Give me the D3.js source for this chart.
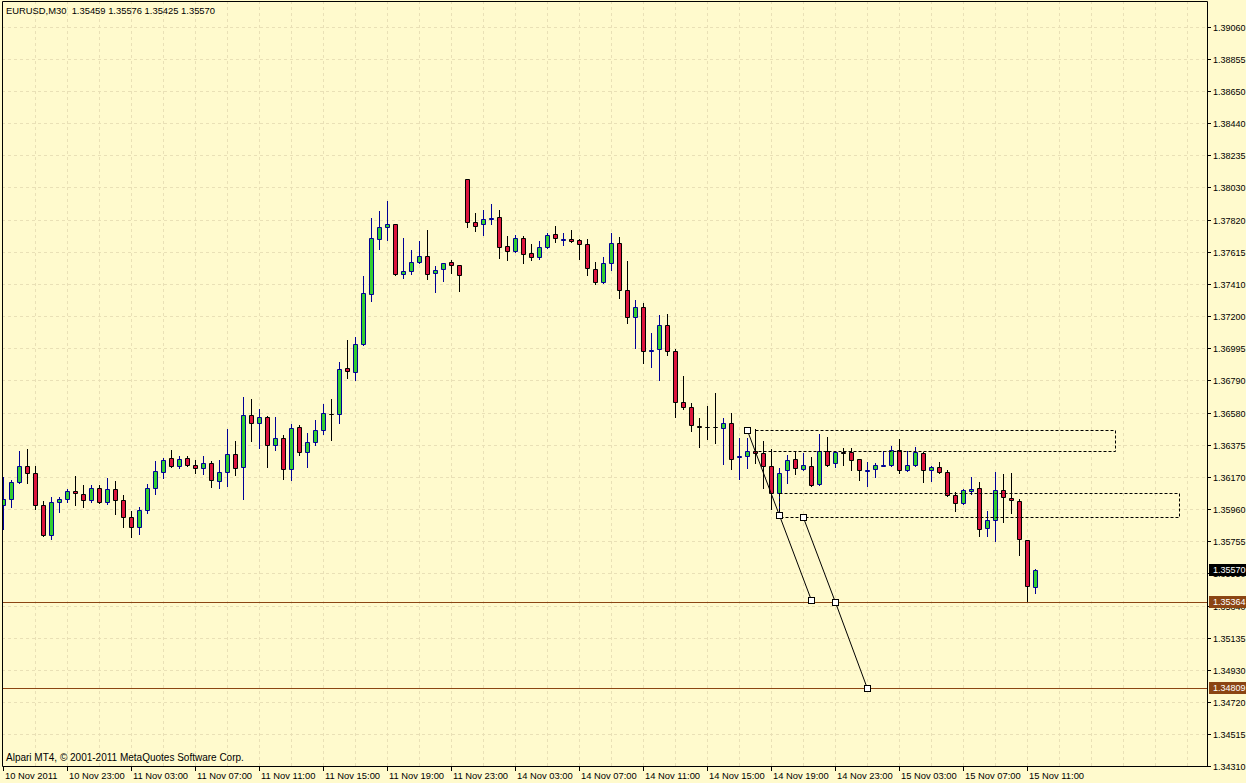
<!DOCTYPE html>
<html>
<head>
<meta charset="utf-8">
<script src="https://cdn.jsdelivr.net/npm/d3@7"></script>
<style>
    body { margin: 0; background: #fffacd; }
    svg { display: block; }
</style>
</head>
<body>
<script>

// EURUSD M30, 10 Nov 2011 19:00 .. 15 Nov 2011 11:30 (one bar per entry)
var opens = [
    1.35987, 1.36024, 1.36133, 1.36236, 1.36191, 1.35986, 1.35793, 1.36005, 1.36024, 1.36076,
    1.36056, 1.36018, 1.36095, 1.36005, 1.36088, 1.36018, 1.35908, 1.35844, 1.35953, 1.36095,
    1.36198, 1.36288, 1.36236, 1.36288, 1.36243, 1.36223, 1.36256, 1.36140, 1.36198, 1.36313,
    1.36230, 1.36564, 1.36513, 1.36551, 1.36371, 1.36416, 1.36217, 1.36487, 1.36326, 1.36390,
    1.36468, 1.36575, 1.36570, 1.36866, 1.36840, 1.37020, 1.37342, 1.37695, 1.37773, 1.37792,
    1.37470, 1.37490, 1.37548, 1.37586, 1.37477, 1.37503, 1.37548, 1.37528, 1.38081, 1.37805,
    1.37792, 1.37832, 1.37837, 1.37650, 1.37618, 1.37702, 1.37605, 1.37580, 1.37644, 1.37727,
    1.37699, 1.37695, 1.37689, 1.37663, 1.37503, 1.37419, 1.37541, 1.37670, 1.37368, 1.37194,
    1.37258, 1.36986, 1.36988, 1.37143, 1.36975, 1.36648, 1.36615, 1.36497, 1.36491, 1.36487,
    1.36480, 1.36513, 1.36304, 1.36300, 1.36333, 1.36320, 1.36236, 1.36063, 1.36210, 1.36281,
    1.36217, 1.36236, 1.36120, 1.36333, 1.36256, 1.36326, 1.36326, 1.36281, 1.36210, 1.36217,
    1.36243, 1.36243, 1.36339, 1.36210, 1.36243, 1.36320, 1.36210, 1.36230, 1.36198, 1.36050,
    1.35998, 1.36076, 1.36095, 1.35838, 1.35889, 1.36082, 1.36031, 1.36011, 1.35760, 1.35459
];
var highs = [
    1.36167, 1.36148, 1.36334, 1.36347, 1.36238, 1.36013, 1.36039, 1.36039, 1.36090, 1.36174,
    1.36116, 1.36114, 1.36114, 1.36159, 1.36140, 1.36050, 1.35949, 1.35973, 1.36120, 1.36268,
    1.36288, 1.36339, 1.36300, 1.36300, 1.36275, 1.36300, 1.36268, 1.36275, 1.36474, 1.36397,
    1.36680, 1.36667, 1.36603, 1.36558, 1.36551, 1.36435, 1.36506, 1.36500, 1.36448, 1.36532,
    1.36635, 1.36667, 1.36905, 1.37046, 1.37065, 1.37458, 1.37830, 1.37875, 1.37942, 1.37795,
    1.37702, 1.37625, 1.37683, 1.37753, 1.37522, 1.37543, 1.37560, 1.37530, 1.38083, 1.37862,
    1.37882, 1.37922, 1.37882, 1.37715, 1.37721, 1.37715, 1.37663, 1.37683, 1.37734, 1.37779,
    1.37734, 1.37753, 1.37695, 1.37695, 1.37548, 1.37580, 1.37734, 1.37708, 1.37554, 1.37303,
    1.37284, 1.37091, 1.37207, 1.37213, 1.36988, 1.36815, 1.36641, 1.36545, 1.36624, 1.36705,
    1.36545, 1.36577, 1.36416, 1.36416, 1.36474, 1.36401, 1.36347, 1.36223, 1.36307, 1.36333,
    1.36320, 1.36294, 1.36442, 1.36423, 1.36333, 1.36352, 1.36352, 1.36284, 1.36262, 1.36256,
    1.36333, 1.36365, 1.36410, 1.36333, 1.36358, 1.36326, 1.36236, 1.36262, 1.36210, 1.36069,
    1.36088, 1.36165, 1.36133, 1.35947, 1.36198, 1.36185, 1.36191, 1.36024, 1.35762, 1.35576
];
var lows = [
    1.35833, 1.35976, 1.36130, 1.36131, 1.35964, 1.35790, 1.35767, 1.35944, 1.36009, 1.35986,
    1.35973, 1.36005, 1.35998, 1.35992, 1.35928, 1.35848, 1.35784, 1.35803, 1.35934, 1.36056,
    1.36163, 1.36233, 1.36223, 1.36236, 1.36191, 1.36185, 1.36101, 1.36095, 1.36108, 1.36178,
    1.36024, 1.36401, 1.36357, 1.36234, 1.36338, 1.36157, 1.36148, 1.36307, 1.36234, 1.36371,
    1.36446, 1.36407, 1.36516, 1.36806, 1.36793, 1.37018, 1.37301, 1.37635, 1.37693, 1.37464,
    1.37445, 1.37474, 1.37541, 1.37438, 1.37355, 1.37429, 1.37477, 1.37365, 1.37773, 1.37751,
    1.37721, 1.37792, 1.37573, 1.37560, 1.37612, 1.37541, 1.37560, 1.37567, 1.37640, 1.37676,
    1.37657, 1.37676, 1.37571, 1.37464, 1.37406, 1.37416, 1.37496, 1.37316, 1.37159, 1.36995,
    1.36902, 1.36876, 1.36793, 1.36954, 1.36555, 1.36603, 1.36461, 1.36358, 1.36410, 1.36384,
    1.36249, 1.36217, 1.36153, 1.36223, 1.36256, 1.36099, 1.35960, 1.35923, 1.36127, 1.36185,
    1.36210, 1.36108, 1.36114, 1.36240, 1.36230, 1.36243, 1.36210, 1.36146, 1.36108, 1.36165,
    1.36236, 1.36236, 1.36191, 1.36204, 1.36240, 1.36133, 1.36140, 1.36191, 1.36043, 1.35947,
    1.35992, 1.36056, 1.35786, 1.35786, 1.35754, 1.35876, 1.35934, 1.35664, 1.35364, 1.35425
];
var closes = [
    1.36026, 1.36133, 1.36236, 1.36191, 1.35986, 1.35793, 1.36007, 1.36024, 1.36076, 1.36063,
    1.36018, 1.36095, 1.36005, 1.36088, 1.36018, 1.35908, 1.35844, 1.35953, 1.36095, 1.36204,
    1.36275, 1.36236, 1.36281, 1.36243, 1.36223, 1.36256, 1.36146, 1.36198, 1.36313, 1.36223,
    1.36564, 1.36513, 1.36551, 1.36371, 1.36416, 1.36217, 1.36480, 1.36326, 1.36390, 1.36468,
    1.36577, 1.36574, 1.36860, 1.36847, 1.37020, 1.37348, 1.37702, 1.37773, 1.37792, 1.37470,
    1.37490, 1.37548, 1.37586, 1.37470, 1.37496, 1.37541, 1.37528, 1.37464, 1.37805, 1.37779,
    1.37824, 1.37832, 1.37644, 1.37618, 1.37702, 1.37599, 1.37580, 1.37644, 1.37721, 1.37702,
    1.37699, 1.37683, 1.37663, 1.37509, 1.37419, 1.37541, 1.37670, 1.37368, 1.37194, 1.37258,
    1.36975, 1.36986, 1.37143, 1.36975, 1.36648, 1.36615, 1.36500, 1.36487, 1.36490, 1.36486,
    1.36513, 1.36281, 1.36304, 1.36333, 1.36320, 1.36236, 1.36063, 1.36191, 1.36275, 1.36223,
    1.36243, 1.36114, 1.36333, 1.36243, 1.36326, 1.36325, 1.36275, 1.36210, 1.36210, 1.36243,
    1.36243, 1.36339, 1.36210, 1.36243, 1.36326, 1.36210, 1.36230, 1.36198, 1.36050, 1.35998,
    1.36082, 1.36088, 1.35831, 1.35889, 1.36082, 1.36037, 1.36018, 1.35767, 1.35465, 1.35570
];

// one label every 8 bars
var timeLabels = [
    '10 Nov 2011', '10 Nov 23:00', '11 Nov 03:00', '11 Nov 07:00', '11 Nov 11:00',
    '11 Nov 15:00', '11 Nov 19:00', '11 Nov 23:00', '14 Nov 03:00', '14 Nov 07:00',
    '14 Nov 11:00', '14 Nov 15:00', '14 Nov 19:00', '14 Nov 23:00', '15 Nov 03:00',
    '15 Nov 07:00', '15 Nov 11:00'
];
var priceTicks = [
    1.39060, 1.38855, 1.38650, 1.38440, 1.38235, 1.38030, 1.37820, 1.37615,
    1.37410, 1.37200, 1.36995, 1.36790, 1.36580, 1.36375, 1.36170, 1.35960,
    1.35755, 1.35550, 1.35340, 1.35135, 1.34930, 1.34720, 1.34515, 1.34310
];

// drawn objects on the chart
var levelPrices = [1.35364, 1.34809];
var zoneFrom = [94, 97];
var zoneTo = [139, 147];
var zoneHigh = [1.36468, 1.36063];
var zoneLow = [1.36333, 1.35908];
var trendA = [[93, 1.36468], [97, 1.35923], [101, 1.35377]];
var trendB = [[100, 1.35908], [104, 1.35364], [108, 1.34809]];

var symbol = 'EURUSD,M30';
var copyright = 'Alpari MT4, \u00a9 2001-2011 MetaQuotes Software Corp.';

var opts = {
    width: 1246,
    height: 783,
    left: 2,
    top: 1,
    right: 1207,
    bottom: 766,
    bg: '#fffacd',
    grid: '#e9e0b6',
    bullFill: '#32cd32',
    bullLine: '#000096',
    bearFill: '#dc143c',
    bearLine: '#000000',
    level: '#8b4513',
    font: 'Tahoma, "Liberation Sans", Arial, sans-serif',
    fontSize: '10px',
    priceSize: '9px',
    timeSize: '9.4px'
};

var svg = d3.select('body').append('svg')
    .attr('width', opts.width)
    .attr('height', opts.height)
    .attr('font-family', opts.font)
    .attr('font-size', opts.fontSize);

svg.append('rect')
    .attr('width', opts.width)
    .attr('height', opts.height)
    .attr('fill', opts.bg);

var x = d3.scaleLinear().domain([0, 129]).range([3, 1035]);
var y = d3.scaleLinear().domain([1.34310, 1.39060]).range([766, 27]);

var px = function(v) { return Math.round(v) + 0.5; };

svg.append('clipPath').attr('id', 'plot')
    .append('rect')
    .attr('x', opts.left + 1).attr('y', opts.top + 1)
    .attr('width', opts.right - opts.left - 1)
    .attr('height', opts.bottom - opts.top - 1);

var plot = svg.append('g').attr('clip-path', 'url(#plot)');

// grid
var vgrid = d3.range(32, 1207, 32);
plot.selectAll('line.vg').data(vgrid).enter().append('line')
    .attr('x1', function(d) { return px(d + 3); })
    .attr('x2', function(d) { return px(d + 3); })
    .attr('y1', opts.top).attr('y2', opts.bottom)
    .attr('stroke', opts.grid)
    .attr('stroke-dasharray', '3,3');

plot.selectAll('line.hg').data(priceTicks).enter().append('line')
    .attr('x1', opts.left).attr('x2', opts.right)
    .attr('y1', function(d) { return px(y(d)); })
    .attr('y2', function(d) { return px(y(d)); })
    .attr('stroke', opts.grid)
    .attr('stroke-dasharray', '3,3');

// candles
var bars = d3.range(opens.length).map(function(i) {
    return { i: i, o: opens[i], h: highs[i], l: lows[i], c: closes[i] };
});

var candle = plot.selectAll('g.bar').data(bars).enter().append('g');

candle.append('line')
    .attr('x1', function(d) { return px(x(d.i)); })
    .attr('x2', function(d) { return px(x(d.i)); })
    .attr('y1', function(d) { return Math.round(y(d.h)); })
    .attr('y2', function(d) { return Math.round(y(d.l)) + 1; })
    .attr('stroke', function(d) { return d.c >= d.o ? opts.bullLine : opts.bearLine; });

candle.append('path')
    .attr('d', function(d) {
        var cx = Math.round(x(d.i));
        var t = Math.round(y(Math.max(d.o, d.c)));
        var b = Math.round(y(Math.min(d.o, d.c)));
        if (d.o === d.c) b = t + 1;
        return 'M' + (cx - 1.5) + ',' + (t + 0.5) + 'H' + (cx + 2.5) +
            'V' + (b + 0.5) + 'H' + (cx - 1.5) + 'Z';
    })
    .attr('fill', function(d) { return d.c >= d.o ? opts.bullFill : opts.bearFill; })
    .attr('stroke', function(d) { return d.c >= d.o ? opts.bullLine : opts.bearLine; });

// horizontal levels
plot.selectAll('line.lvl').data(levelPrices).enter().append('line')
    .attr('x1', opts.left).attr('x2', opts.right)
    .attr('y1', function(d) { return px(y(d)); })
    .attr('y2', function(d) { return px(y(d)); })
    .attr('stroke', opts.level);

// dashed zones
plot.selectAll('rect.zone').data(zoneFrom).enter().append('rect')
    .attr('x', function(d) { return px(x(d)); })
    .attr('y', function(d, i) { return px(y(zoneHigh[i])); })
    .attr('width', function(d, i) { return Math.round(x(zoneTo[i]) - x(d)); })
    .attr('height', function(d, i) { return Math.round(y(zoneLow[i]) - y(zoneHigh[i])); })
    .attr('fill', 'none')
    .attr('stroke', '#000')
    .attr('stroke-dasharray', '3,2');

// trend lines with handles
[trendA, trendB].forEach(function(pts) {
    plot.append('path')
        .attr('d', d3.line()
            .x(function(p) { return x(p[0]) + 0.5; })
            .y(function(p) { return y(p[1]) + 0.5; })(pts))
        .attr('fill', 'none')
        .attr('stroke', '#000');

    plot.selectAll(null).data(pts).enter().append('rect')
        .attr('x', function(p) { return Math.round(x(p[0])) - 2.5; })
        .attr('y', function(p) { return Math.round(y(p[1])) - 2.5; })
        .attr('width', 6).attr('height', 6)
        .attr('fill', '#fff')
        .attr('stroke', '#000');
});

// frame
svg.append('path')
    .attr('d', 'M' + (opts.left + 0.5) + ',' + (opts.top + 0.5) +
        'H' + (opts.right + 0.5) + 'V' + (opts.bottom + 0.5) +
        'H' + (opts.left + 0.5) + 'Z')
    .attr('fill', 'none')
    .attr('stroke', '#000');

// price axis
var pAxis = svg.selectAll('g.pt').data(priceTicks).enter().append('g')
    .attr('transform', function(d) { return 'translate(0,' + px(y(d)) + ')'; });

pAxis.append('line')
    .attr('x1', opts.right).attr('x2', opts.right + 4)
    .attr('stroke', '#000');

pAxis.append('text')
    .attr('x', opts.right + 6)
    .attr('dy', '0.35em')
    .attr('font-size', opts.priceSize)
    .attr('fill', '#000')
    .text(function(d) { return d.toFixed(5); });

// price tags on the axis
var tags = levelPrices.map(function(p) { return { p: p, bg: opts.level }; });
tags.push({ p: closes[closes.length - 1], bg: '#000' });

var tag = svg.selectAll('g.tag').data(tags).enter().append('g')
    .attr('transform', function(d) { return 'translate(0,' + Math.round(y(d.p)) + ')'; });

tag.append('rect')
    .attr('x', opts.right + 2).attr('y', -6)
    .attr('width', 40).attr('height', 12)
    .attr('fill', function(d) { return d.bg; });

tag.append('text')
    .attr('x', opts.right + 6)
    .attr('dy', '0.35em')
    .attr('font-size', opts.priceSize)
    .attr('fill', '#fff')
    .text(function(d) { return d.p.toFixed(5); });

// time axis
var tAxis = svg.selectAll('g.tt').data(timeLabels).enter().append('g')
    .attr('transform', function(d, i) { return 'translate(' + px(x(i * 8)) + ',0)'; });

tAxis.append('line')
    .attr('y1', opts.bottom).attr('y2', opts.bottom + 5)
    .attr('stroke', '#000');

tAxis.append('text')
    .attr('x', 1.5)
    .attr('y', 779)
    .attr('font-size', opts.timeSize)
    .attr('fill', '#000')
    .text(function(d) { return d; });

// header and footer
var last = opens.length - 1;
svg.append('text')
    .attr('x', 6).attr('y', 14)
    .attr('font-size', opts.timeSize)
    .attr('fill', '#000')
    .attr('xml:space', 'preserve')
    .text(symbol + '  ' + [opens[last], highs[last], lows[last], closes[last]]
        .map(function(v) { return v.toFixed(5); }).join(' '));

svg.append('text')
    .attr('x', 6).attr('y', 761)
    .attr('fill', '#000')
    .text(copyright);

</script>
</body>
</html>
